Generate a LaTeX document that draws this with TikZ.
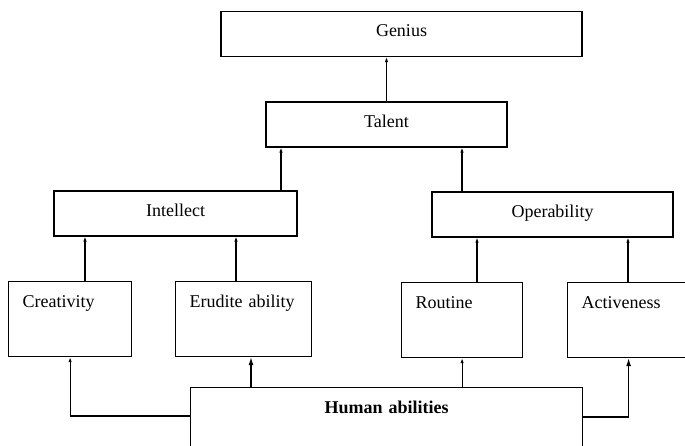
\documentclass[tikz,border=0pt]{standalone}
\usepackage{fontspec}
\setmainfont{Liberation Serif}
\usetikzlibrary{arrows.meta}

\begin{document}
\begin{tikzpicture}[x=1pt, y=-1pt,
    box/.style={draw, line width=1.2pt, minimum height=45pt, text depth=6pt, font=\fontsize{18}{20}\selectfont},
    leaf/.style={draw, line width=1.2pt, anchor=north west, align=left, inner xsep=14pt, inner ysep=8pt,
                 text height=18pt, text depth=41pt, font=\fontsize{18}{20}\selectfont},
    up/.style={line width=1.2pt, -{Latex[length=5pt, width=3.5pt]}},
    upbold/.style={line width=1.2pt, -{Latex[length=8pt, width=5pt]}}]
    \useasboundingbox (0,0) rectangle (685,445);
    \clip (0,0) rectangle (685,445);

    \node (genius) at (401.5,34) [box, minimum width=361pt] {Genius};
    \node (talent) at (386.5,124.5) [box, minimum width=241pt] {Talent};
    \node (intellect) at (175.5,213.5) [box, minimum width=243pt] {Intellect};
    \node (operab) at (552.5,214.5) [box, minimum width=241pt] {Operability};

    \node (creat) at (8,281) [leaf, text width=95pt] {Creativity};
    \node (erudite) at (175,281) [leaf, text width=108pt] {Erudite ability};
    \node (routine) at (401,282) [leaf, text width=93pt] {Routine};
    \node (active) at (567,282) [leaf, text width=94pt] {Activeness};
    \node (human) at (190,387) [leaf, align=center, text width=364pt,
        font=\fontsize{18}{20}\selectfont\bfseries] {Human abilities};

    \draw[up] (talent.north) -- (genius.south -| talent.north);
    \draw[up] (intellect.north -| 281,0) -- (talent.south -| 281,0);
    \draw[up] (operab.north -| 462,0) -- (talent.south -| 462,0);

    \draw[up] (creat.north -| 85,0) -- (intellect.south -| 85,0);
    \draw[up] (erudite.north -| 236,0) -- (intellect.south -| 236,0);
    \draw[up] (routine.north -| 477,0) -- (operab.south -| 477,0);
    \draw[up] (active.north -| 628,0) -- (operab.south -| 628,0);

    \draw[up] (human.west |- 0,416) -| (creat.south);
    \draw[upbold] (human.north -| 251,0) -- (erudite.south -| 251,0);
    \draw[up] (human.north -| routine.south) -- (routine.south);
    \draw[upbold] (human.east |- 0,417) -| (active.south);
\end{tikzpicture}
\end{document}
